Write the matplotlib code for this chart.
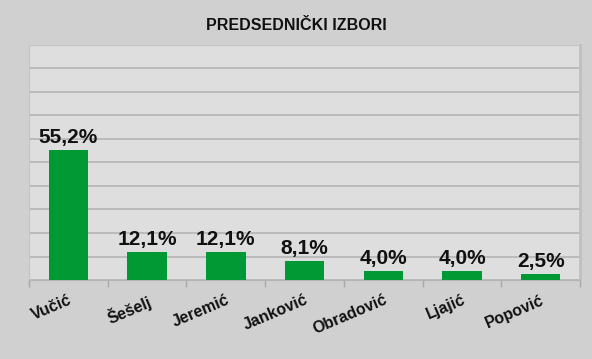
import numpy as np
from matplotlib import pyplot as plt

plt.rcParams['font.family'] = ['Liberation Sans', 'DejaVu Sans']

candidates = ['Vučić', 'Šešelj', 'Jeremić', 'Janković', 'Obradović', 'Ljajić', 'Popović']
shares = [55.2, 12.1, 12.1, 8.1, 4.0, 4.0, 2.5]
share_labels = ['55,2%', '12,1%', '12,1%', '8,1%', '4,0%', '4,0%', '2,5%']

fig = plt.figure(figsize=(5.92, 3.59), dpi=100, facecolor='#d0d0d0')
ax = fig.add_axes([0.049, 0.22, 0.931, 0.655])
ax.set_facecolor('#dedede')

x = np.arange(len(candidates))
ax.bar(x, shares, width=0.5, color='#009933', zorder=3)

for xi, val, lab in zip(x, shares, share_labels):
    ax.text(xi, val + 3.0, lab, ha='center', va='baseline',
            fontsize=15, fontweight='bold', color='#111111')

ax.set_xlim(-0.5, len(candidates) - 0.5)
ax.set_ylim(0, 100)
ax.set_yticks(np.arange(0, 101, 10))
ax.yaxis.grid(True, color='#b4b4b4', linewidth=1.2, zorder=0)
ax.tick_params(axis='y', left=False, labelleft=False)

ax.set_xticks(x)
ax.set_xticklabels(candidates, rotation=23, ha='right', rotation_mode='anchor',
                   fontsize=11.5, fontweight='bold', color='#111111')
ax.tick_params(axis='x', which='major', length=0, pad=9)
ax.set_xticks(np.arange(-0.5, len(candidates), 1), minor=True)
ax.tick_params(axis='x', which='minor', length=5, color='#a8a8a8', width=1)

for side in ['top', 'left']:
    ax.spines[side].set_color('#c4c4c4')
ax.spines['bottom'].set_color('#b4b4b4')
ax.spines['right'].set_color('#c0c0c0')
ax.spines['right'].set_linewidth(2)

fig.text(0.5, 0.928, 'PREDSEDNIČKI IZBORI', ha='center', va='center',
         fontsize=11.5, fontweight='bold', color='#111111')

plt.savefig('out.png', dpi=100, facecolor=fig.get_facecolor())
